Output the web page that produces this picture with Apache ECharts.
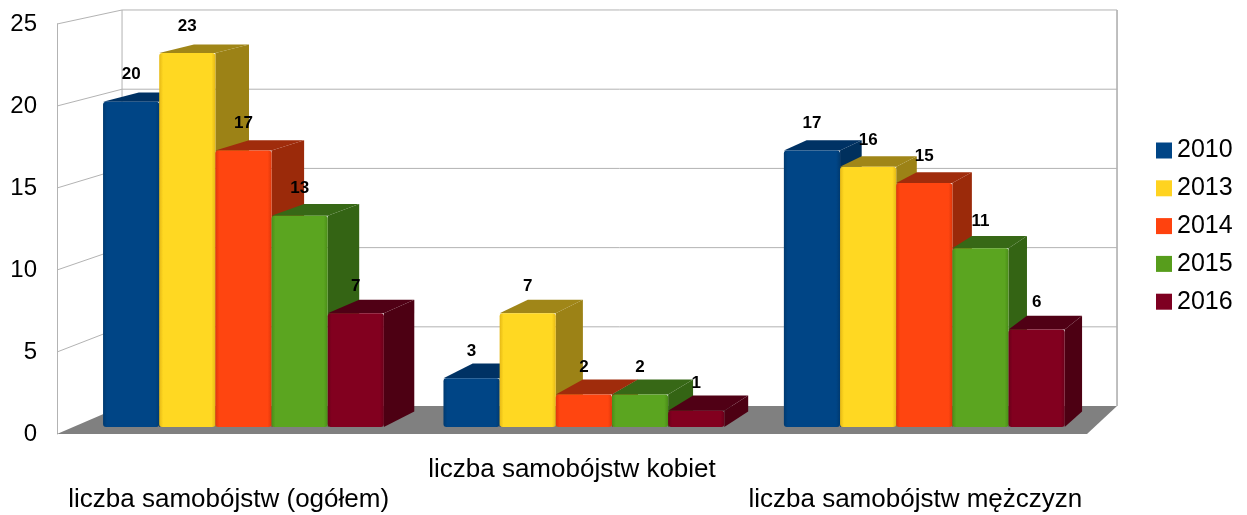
<!DOCTYPE html>
<html>
<head>
<meta charset="utf-8">
<script src="https://cdn.jsdelivr.net/npm/echarts@6/dist/echarts.min.js"></script>
<style>
  html, body { margin: 0; padding: 0; background: #ffffff; }
  #chart { width: 1247px; height: 515px; }
</style>
</head>
<body>
<div id="chart"></div>
<script>
// ---- data ----
const categories = ['liczba samobójstw (ogółem)', 'liczba samobójstw kobiet', 'liczba samobójstw mężczyzn'];
const years = ['2010', '2013', '2014', '2015', '2016'];
const s2010 = [20, 3, 17];
const s2013 = [23, 7, 16];
const s2014 = [17, 2, 15];
const s2015 = [13, 2, 11];
const s2016 = [7, 1, 6];
const yTicks = [0, 5, 10, 15, 20, 25];

// ---- style ----
const seriesValues = [s2010, s2013, s2014, s2015, s2016];
const legendColors = ['#004586', '#ffd320', '#ff420e', '#579d1c', '#7e0021'];
const frontColors = ['#004586', '#ffd822', '#ff4510', '#5ba520', '#82001f'];
const edgeColors  = ['#003a70', '#e6b915', '#e0370a', '#4a8c18', '#6a001a'];
const sideColors  = ['#00305d', '#9c8216', '#9b2a0a', '#346414', '#4d0013'];
const topColors   = ['#003264', '#a08618', '#a02c0c', '#376816', '#500015'];
const VP = [1970, -388];         // vanishing point of the perspective
const K_FRONT = 0.0085, K_BACK = 0.0275, K_WALL = 0.034;
const BAR_FRAC = 0.165;
const GRID_COLOR = '#b3b3b3';
const FONT = '"Liberation Sans", Arial, sans-serif';

function proj(p, k) {
  return [p[0] + (VP[0] - p[0]) * k, p[1] + (VP[1] - p[1]) * k];
}

function wallRender(params, api) {
  const cs = params.coordSys;
  const t = api.value(1);
  const y = api.coord([0, t])[1];
  const x0 = cs.x, x1 = cs.x + cs.width;
  const children = [];
  if (t === 0) {
    const yTop = cs.y;
    children.push({
      type: 'polygon',
      shape: { points: [[x0, y], [x1, y], proj([x1, y], K_WALL), proj([x0, y], K_WALL)] },
      style: { fill: '#808080' }
    });
    children.push({
      type: 'polyline',
      shape: { points: [proj([x0, y], K_WALL), proj([x0, yTop], K_WALL)] },
      style: { stroke: GRID_COLOR, lineWidth: 1, fill: null }
    });
    children.push({
      type: 'polyline',
      shape: { points: [proj([x1, y], K_WALL), proj([x1, yTop], K_WALL)] },
      style: { stroke: '#aaaaaa', lineWidth: 1.5, fill: null }
    });
  } else {
    children.push({
      type: 'polyline',
      shape: { points: [[x0, y], proj([x0, y], K_WALL), proj([x1, y], K_WALL)] },
      style: { stroke: GRID_COLOR, lineWidth: 1, fill: null }
    });
  }
  return { type: 'group', children: children };
}

function makeBarRender(si) {
  return function (params, api) {
    const cat = api.value(0), v = api.value(1);
    const c = api.coord([cat, v]);
    const b = api.coord([cat, 0]);
    const cw = api.size([1, 0])[0];
    const bw = cw * BAR_FRAC;
    const xl = c[0] - 2.5 * bw + si * bw;
    const xr = xl + bw;
    const fTL = proj([xl, c[1]], K_FRONT), fTR = proj([xr, c[1]], K_FRONT);
    const fBR = proj([xr, b[1]], K_FRONT);
    const bTL = proj([xl, c[1]], K_BACK), bTR = proj([xr, c[1]], K_BACK);
    const bBR = proj([xr, b[1]], K_BACK);
    const children = [
      { type: 'polygon', shape: { points: [fTR, bTR, bBR, fBR] },
        style: { fill: sideColors[si] } },
      { type: 'polygon', shape: { points: [fTL, fTR, bTR, bTL] },
        style: { fill: topColors[si] } },
      { type: 'rect',
        shape: { x: fTL[0], y: fTL[1], width: fTR[0] - fTL[0], height: fBR[1] - fTL[1], r: 3 },
        style: {
          fill: new echarts.graphic.LinearGradient(0, 0, 1, 0, [
            { offset: 0, color: edgeColors[si] },
            { offset: 0.07, color: frontColors[si] },
            { offset: 0.93, color: frontColors[si] },
            { offset: 1, color: edgeColors[si] }
          ])
        } },
      { type: 'text', z2: 100,
        style: {
          x: (fTL[0] + fTR[0]) / 2, y: fTL[1] - 27,
          text: String(v), align: 'center', verticalAlign: 'middle',
          fill: '#000', font: 'bold 17px ' + FONT
        } }
    ];
    return { type: 'group', children: children };
  };
}

const series = [{
  type: 'custom', name: 'walls', z: 1, silent: true, clip: false,
  data: yTicks.map(t => [0, t]),
  renderItem: wallRender
}];
years.forEach((yr, si) => {
  series.push({
    type: 'custom', name: yr, z: 2, clip: false,
    itemStyle: { color: legendColors[si] },
    data: seriesValues[si].map((val, ci) => [ci, val]),
    renderItem: makeBarRender(si)
  });
});

const chart = echarts.init(document.getElementById('chart'), null, { renderer: 'canvas' });
chart.setOption({
  animation: false,
  backgroundColor: '#ffffff',
  grid: { left: 57, right: 160, top: 24, bottom: 80, containLabel: false },
  legend: {
    data: years, orient: 'vertical', left: 1151, top: 133,
    icon: 'rect', itemWidth: 16, itemHeight: 16, itemGap: 12.8,
    textStyle: { fontSize: 25, color: '#000', fontFamily: FONT }
  },
  xAxis: {
    type: 'category', data: categories,
    axisLine: { show: false }, axisTick: { show: false }, splitLine: { show: false },
    axisLabel: {
      interval: 0, margin: 21, fontSize: 26, lineHeight: 30, color: '#000', fontFamily: FONT,
      formatter: (val, idx) => (idx === 1 ? val : '\n' + val)
    }
  },
  yAxis: {
    type: 'value', min: 0, max: 25, interval: 5,
    axisLine: { show: true, lineStyle: { color: GRID_COLOR, width: 1 } },
    axisTick: { show: false }, splitLine: { show: false },
    axisLabel: { margin: 20, fontSize: 24, color: '#000', fontFamily: FONT }
  },
  series: series
});
</script>
</body>
</html>
